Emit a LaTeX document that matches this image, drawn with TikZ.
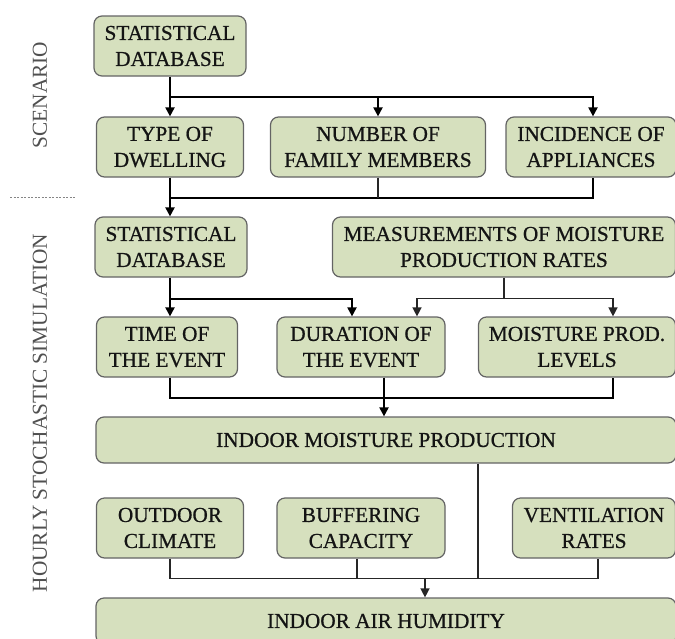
\documentclass[tikz,border=0pt]{standalone}
\usepackage{fontspec}
\setmainfont{Liberation Serif}
\newfontfamily\heavyserif[FakeBold=0.7]{Liberation Serif}
\usetikzlibrary{arrows.meta}
\definecolor{boxfill}{RGB}{214,224,190}
\definecolor{boxline}{RGB}{100,100,100}
\definecolor{sidetext}{RGB}{80,80,80}

\begin{document}
\begin{tikzpicture}[x=1pt,y=-1pt,
        box/.style={draw=boxline, fill=boxfill, line width=1.2pt, rounded corners=8pt,
          align=center, inner sep=0pt, minimum height=60pt,
          font=\heavyserif\fontsize{21.3}{26}\selectfont, text=black!92},
        sidelabel/.style={rotate=90, text=sidetext, font=\fontsize{21.3}{24}\selectfont},
        wire/.style={black, line width=2pt},
        thin wire/.style={black!85, line width=1.4pt},
        arr/.style={-{Triangle[width=9pt,length=9pt]}}]
        \clip (0,0) rectangle (675,638);
        % side labels
        \node [sidelabel] (scen) at (40,95) {SCENARIO};
        \node [sidelabel] (hss) at (40,413) {HOURLY STOCHASTIC SIMULATION};
        \draw [sidetext!70, line width=0.8pt, dash pattern=on 2pt off 1.5pt] (10,197) -- (75,197);
        % boxes
        \node [box, minimum width=152pt] (sdA) at (170,46) {STATISTICAL\\DATABASE};
        \node [box, minimum width=147pt] (dwell) at (170,147) {TYPE OF\\DWELLING};
        \node [box, minimum width=215pt] (family) at (378,147) {NUMBER OF\\FAMILY MEMBERS};
        \node [box, minimum width=170pt] (appl) at (591,147) {INCIDENCE OF\\APPLIANCES};
        \node [box, minimum width=152pt] (sdB) at (171,247) {STATISTICAL\\DATABASE};
        \node [box, minimum width=343pt] (meas) at (504,247) {MEASUREMENTS OF MOISTURE\\PRODUCTION RATES};
        \node [box, minimum width=141pt] (time) at (167,347) {TIME OF\\THE EVENT};
        \node [box, minimum width=168pt] (dur) at (361,347) {DURATION OF\\THE EVENT};
        \node [box, minimum width=197pt] (levels) at (577,347) {MOISTURE PROD.\\LEVELS};
        \node [box, minimum width=580pt, minimum height=46pt] (imp) at (386,440) {INDOOR MOISTURE PRODUCTION};
        \node [box, minimum width=147pt] (outdoor) at (170,528) {OUTDOOR\\CLIMATE};
        \node [box, minimum width=168pt] (buff) at (361,528) {BUFFERING\\CAPACITY};
        \node [box, minimum width=163pt] (vent) at (594,528) {VENTILATION\\RATES};
        \node [box, minimum width=580pt, minimum height=46pt] (iah) at (386,621) {INDOOR AIR HUMIDITY};
        % scenario
        \draw [wire] (sdA.south) -- ++(0,20) coordinate (b1);
        \draw [wire,arr] (b1) -- (dwell.north);
        \draw [wire,arr] (b1) -| ([xshift=2pt]appl.north);
        \draw [wire,arr] (b1 -| family.north) -- (family.north);
        \path (dwell.south) ++(0,20) coordinate (b2);
        \draw [wire] ([xshift=2pt]appl.south) |- (b2);
        \draw [thin wire] (family.south) -- (family.south |- b2);
        \draw [wire,arr] (dwell.south) -- (dwell.south |- sdB.north);
        % simulation inputs
        \draw [wire] (sdB.south -| dwell.south) -- ++(0,21) coordinate (b3);
        \draw [wire,arr] (b3) -- (b3 |- time.north);
        \draw [wire,arr] (b3) -| ([xshift=-9pt]dur.north);
        \draw [thin wire] (meas.south) -- ++(0,21) coordinate (b4);
        \draw [thin wire,arr] (b4) -| ([xshift=56pt]dur.north);
        \draw [thin wire,arr] (b4) -| ([xshift=36pt]levels.north);
        % production
        \path (time.south -| b3) ++(0,20) coordinate (b5);
        \draw [wire] (time.south -| b3) -- (b5) -| ([xshift=36pt]levels.south);
        \coordinate (dOut) at ([xshift=23pt]dur.south);
        \draw [wire,arr] (dOut) -- (dOut |- imp.north);
        % humidity
        \path (outdoor.south) ++(0,20) coordinate (b6);
        \draw [thin wire] (outdoor.south) -- (b6) -| ([xshift=4pt]vent.south);
        \draw [thin wire] ([xshift=-4pt]buff.south) -- ++(0,20);
        \coordinate (mOut) at ([xshift=92pt]imp.south);
        \draw [thin wire] (mOut) -- (mOut |- b6);
        \coordinate (hIn) at ([xshift=39pt]iah.north);
        \draw [thin wire,arr] (hIn |- b6) -- (hIn);
\end{tikzpicture}
\end{document}
